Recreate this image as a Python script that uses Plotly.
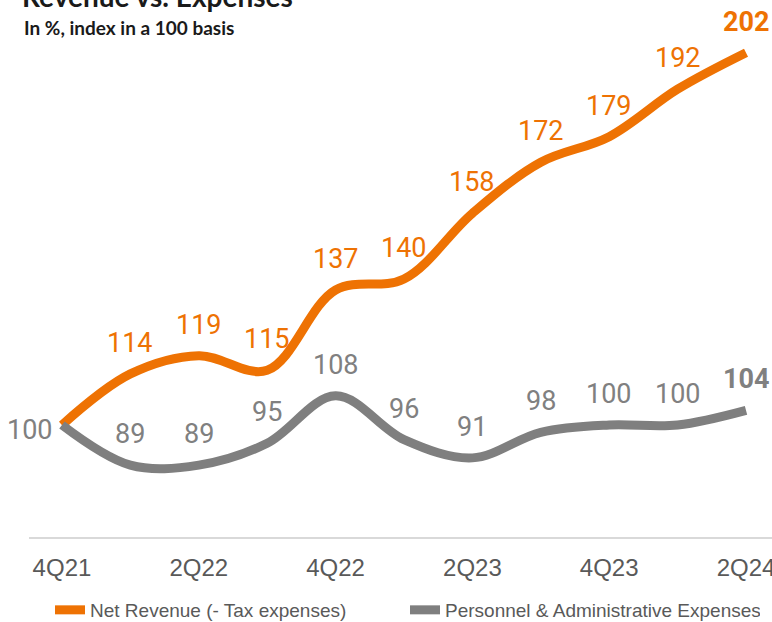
import plotly.graph_objects as go

categories = ["4Q21", "1Q22", "2Q22", "3Q22", "4Q22", "1Q23", "2Q23", "3Q23", "4Q23", "1Q24", "2Q24"]
net_revenue = [100, 114, 119, 115, 137, 140, 158, 172, 179, 192, 202]
expenses = [100, 89, 89, 95, 108, 96, 91, 98, 100, 100, 104]
tick_labels = ["4Q21", "2Q22", "4Q22", "2Q23", "4Q23", "2Q24"]

series_names = ["Net Revenue (- Tax expenses)", "Personnel & Administrative Expenses"]
ORANGE = "#EE7203"
GRAY = "#7F7F7F"
GRAY_TXT = "#808080"
AXIS_TXT = "#595959"

fig = go.Figure()
fig.add_trace(go.Scatter(
    x=categories, y=net_revenue, name=series_names[0], mode="lines",
    line=dict(color=ORANGE, width=9, shape="spline", smoothing=1.0),
    cliponaxis=False,
))
fig.add_trace(go.Scatter(
    x=categories, y=expenses, name=series_names[1], mode="lines",
    line=dict(color=GRAY, width=9, shape="spline", smoothing=1.0),
    cliponaxis=False,
))

annotations = []
label_font = "Roboto, Liberation Sans, Arial, sans-serif"
n = len(categories)
for i in range(n):
    last = i == n - 1
    if i > 0:
        annotations.append(dict(
            x=categories[i], y=net_revenue[i], xref="x", yref="y",
            text=("<b>%d</b>" % net_revenue[i]) if last else str(net_revenue[i]),
            showarrow=False, yshift=31, yanchor="middle", xanchor="center",
            font=dict(family=label_font, size=27, color=ORANGE),
        ))
        annotations.append(dict(
            x=categories[i], y=expenses[i], xref="x", yref="y",
            text=("<b>%d</b>" % expenses[i]) if last else str(expenses[i]),
            showarrow=False, yshift=31, yanchor="middle", xanchor="center",
            font=dict(family=label_font, size=27, color=GRAY_TXT),
        ))
    else:
        annotations.append(dict(
            x=categories[i], y=expenses[i], xref="x", yref="y",
            text=str(expenses[i]), showarrow=False, xanchor="right",
            yanchor="middle", xshift=-7, yshift=-5,
            font=dict(family=label_font, size=27, color=GRAY_TXT),
        ))

annotations.append(dict(
    x=-0.012, y=1.016, xref="paper", yref="paper", xanchor="left", yanchor="bottom",
    text="<b>Revenue vs. Expenses</b>", showarrow=False,
    font=dict(family="Lato, Open Sans, sans-serif", size=28, color="#1A1A1A"),
))
annotations.append(dict(
    x=-0.009, y=0.992, xref="paper", yref="paper", xanchor="left", yanchor="middle",
    text="<b>In %, index in a 100 basis</b>", showarrow=False,
    font=dict(family="Lato, Open Sans, sans-serif", size=19, color="#1A1A1A"),
))

fig.update_layout(
    width=772, height=622,
    margin=dict(l=29, r=0, t=23, b=85, autoexpand=False),
    paper_bgcolor="white", plot_bgcolor="white",
    showlegend=True,
    legend=dict(
        orientation="h", x=0.0283, xanchor="left", y=-0.142, yanchor="middle",
        font=dict(family="Liberation Sans, Arial, sans-serif", size=19, color=AXIS_TXT),
        entrywidth=310, entrywidthmode="pixels",
        itemwidth=30, bgcolor="rgba(0,0,0,0)",
    ),
    annotations=annotations,
    xaxis=dict(
        type="category", range=[-0.482, 10.38],
        tickmode="array", tickvals=tick_labels, ticktext=tick_labels,
        showline=True, linecolor="#D9D9D9", linewidth=2,
        showgrid=False, zeroline=False, ticks="",
        ticklabelstandoff=8,
        tickfont=dict(family="Liberation Sans, Arial, sans-serif", size=24, color=AXIS_TXT),
    ),
    yaxis=dict(range=[69.32, 210.14], visible=False, showgrid=False, zeroline=False),
)

fig.write_html("out.html")
